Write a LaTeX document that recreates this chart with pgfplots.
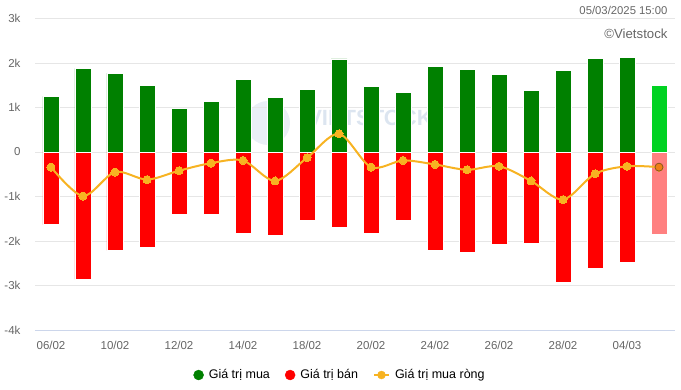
\documentclass[border=0pt]{standalone}
\usepackage{pgfplots}
\pgfplotsset{compat=1.18}
\usepackage{fontspec}
\setmainfont{Liberation Sans}
\definecolor{cgreen}{HTML}{008000}
\definecolor{cred}{HTML}{FF0000}
\definecolor{clgreen}{HTML}{00D222}
\definecolor{clred}{HTML}{FF8080}
\definecolor{cline}{HTML}{F7B322}
\definecolor{clast}{HTML}{F07E14}
\definecolor{clastb}{HTML}{8A5222}
\definecolor{cgrid}{HTML}{E6E6E6}
\definecolor{caxis}{HTML}{CCD6EB}
\definecolor{ctext}{HTML}{666666}
\definecolor{cwm}{HTML}{DCE5F0}
\begin{document}
\begin{tikzpicture}[x=1pt,y=1pt]
\path[use as bounding box] (0,0) rectangle (681,389);
% faint watermark
\fill[cwm,opacity=0.6] (268,266) circle (22);
\node[text=cwm,font=\fontsize{22}{22}\selectfont\bfseries] at (370,271) {VIETSTOCK};
\begin{axis}[
  at={(35pt,59pt)}, anchor=south west,
  scale only axis, width=640pt, height=311.5pt,
  xmin=-0.5, xmax=19.5, ymin=-4000, ymax=3000,
  ytick={-4000,-3000,-2000,-1000,0,1000,2000,3000},
  yticklabels={-4k,-3k,-2k,-1k,0,1k,2k,3k},
  xtick={0,2,4,6,8,10,12,14,16,18},
  xticklabels={06/02,10/02,12/02,14/02,18/02,20/02,24/02,26/02,28/02,04/03},
  ymajorgrids, grid style={cgrid, line width=0.8pt},
  axis lines*=left,
  x axis line style={caxis, line width=0.8pt, -},
  y axis line style={draw=none},
  tick style={draw=none},
  yticklabel style={text=ctext, font=\fontsize{11.5}{13}\selectfont, xshift=-11pt},
  xticklabel style={text=ctext, font=\fontsize{11.5}{13}\selectfont, yshift=-7.5pt},
  legend style={at={(0.4766,-0.1445)}, anchor=center, draw=none, fill=none,
    legend columns=3, font=\fontsize{12.5}{14}\selectfont,
    /tikz/every even column/.append style={column sep=13pt},
    /tikz/every odd column/.append style={column sep=3pt}},
  legend cell align=left,
]
\addlegendimage{legend image code/.code={\fill[cgreen] (0pt,0pt) circle (5pt);}}
\addlegendimage{legend image code/.code={\fill[cred] (0pt,0pt) circle (5pt);}}
\addlegendimage{legend image code/.code={\draw[cline, line width=2pt] (-7.5pt,0pt) -- (7.5pt,0pt); \fill[cline] (0pt,0pt) circle (4pt);}}
% buy
\addplot[ybar, bar width=16pt, bar shift=0pt, fill=cgreen, draw=white, line width=0.8pt, forget plot] coordinates {
(0,1250) (1,1880) (2,1770) (3,1500) (4,980) (5,1140) (6,1640) (7,1230) (8,1410) (9,2090)
(10,1480) (11,1340) (12,1930) (13,1860) (14,1750) (15,1390) (16,1840) (17,2110) (18,2130)};
\addplot[ybar, bar width=16pt, bar shift=0pt, fill=clgreen, draw=white, line width=0.8pt, forget plot] coordinates {(19,1500)};
% sell
\addplot[ybar, bar width=16pt, bar shift=0pt, fill=cred, draw=white, line width=0.8pt, forget plot] coordinates {
(0,-1630) (1,-2860) (2,-2210) (3,-2150) (4,-1410) (5,-1410) (6,-1830) (7,-1880) (8,-1540) (9,-1700)
(10,-1830) (11,-1540) (12,-2210) (13,-2260) (14,-2080) (15,-2060) (16,-2930) (17,-2620) (18,-2480)};
\addplot[ybar, bar width=16pt, bar shift=0pt, fill=clred, draw=white, line width=0.8pt, forget plot] coordinates {(19,-1850)};
% net
\addplot[cline, line width=2pt, smooth, mark=*, mark size=4pt, mark options={fill=cline, draw=cline, line width=0pt}, forget plot] coordinates {
(0,-340) (1,-990) (2,-450) (3,-620) (4,-420) (5,-250) (6,-190) (7,-650) (8,-130) (9,410)
(10,-340) (11,-190) (12,-280) (13,-400) (14,-320) (15,-650) (16,-1070) (17,-490) (18,-320) (19,-340)};
\addplot[only marks, mark=*, mark size=4pt, mark options={fill=clast, draw=clastb, line width=0.8pt}, forget plot] coordinates {(19,-340)};
\legend{Giá trị mua, Giá trị bán, Giá trị mua ròng}
\end{axis}
\node[anchor=east, text=ctext, font=\fontsize{11.3}{13}\selectfont] at (671,379) {05/03/2025 15:00};
\node[anchor=east, text=ctext, font=\fontsize{13.2}{15}\selectfont] at (671,355) {©Vietstock};
\end{tikzpicture}
\end{document}
